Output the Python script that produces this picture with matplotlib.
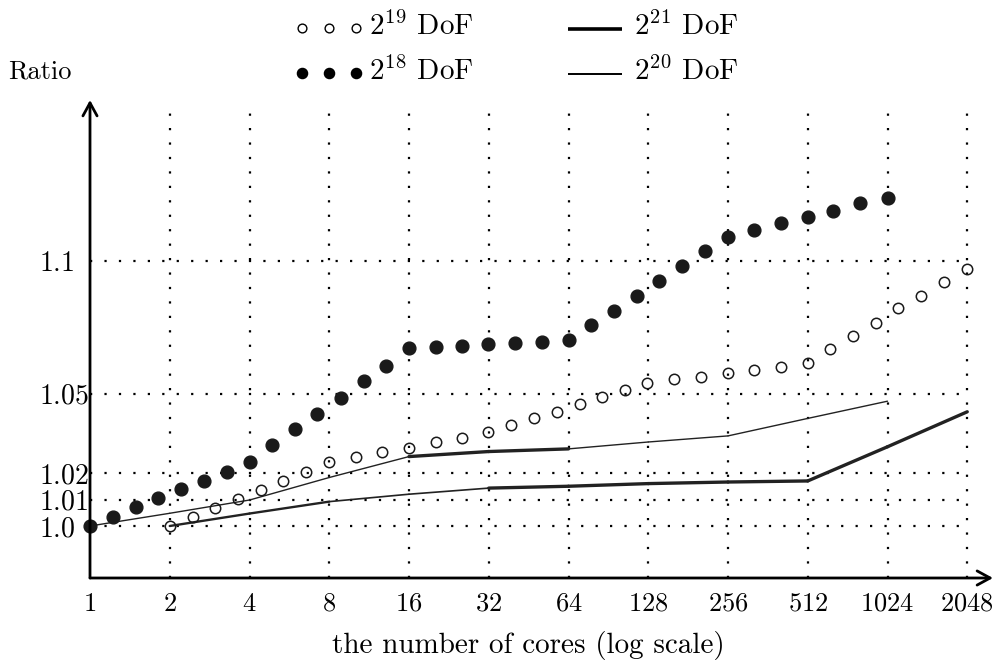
import matplotlib
matplotlib.use("Agg")
import matplotlib.pyplot as plt

plt.rcParams['mathtext.fontset'] = 'cm'
plt.rcParams['font.family'] = ['cmr10', 'DejaVu Serif']
plt.rcParams['axes.formatter.use_mathtext'] = True
plt.rcParams['font.size'] = 17

# ---------------- data ----------------
cores_2p18 = [1, 1.22, 1.49, 1.81, 2.20, 2.69, 3.28, 4.0, 4.85, 5.94, 7.21, 8.84,
              10.8, 13.1, 16, 20.2, 25.4, 31.9, 40.2, 50.7, 64, 77.6, 94.8, 116,
              141, 172, 209, 256, 321, 405, 512, 639, 808, 1024]
ratio_2p18 = [1.0, 1.0035, 1.0071, 1.0105, 1.0138, 1.0171, 1.0205, 1.0243, 1.0305,
              1.0366, 1.0424, 1.0484, 1.0546, 1.0605, 1.0670, 1.0674, 1.0678, 1.0686,
              1.0692, 1.0695, 1.0703, 1.0760, 1.0812, 1.0869, 1.0926, 1.0981, 1.1037,
              1.1092, 1.1118, 1.1142, 1.1167, 1.1190, 1.1218, 1.1239]

cores_2p19 = [2, 2.44, 2.96, 3.62, 4.42, 5.37, 6.55, 8, 10.1, 12.6, 16, 20.2, 25.4,
              31.9, 38.9, 47.3, 57.8, 70.6, 85.9, 104.9, 127, 160, 202, 256, 321,
              405, 512, 621, 757, 924, 1124, 1370, 1674, 2048]
ratio_2p19 = [1.0, 1.0035, 1.0069, 1.0102, 1.0137, 1.0171, 1.0205, 1.0243, 1.0259,
              1.0278, 1.0296, 1.0316, 1.0333, 1.0353, 1.0380, 1.0406, 1.0431, 1.0459,
              1.0488, 1.0514, 1.0540, 1.0553, 1.0563, 1.0576, 1.0590, 1.0601, 1.0614,
              1.0667, 1.0716, 1.0767, 1.0822, 1.0869, 1.0922, 1.0971]

cores_2p20 = [1, 2, 4, 8, 16, 32, 64, 128, 256, 512, 1024]
ratio_2p20 = [1.0, 1.0048, 1.0098, 1.0183, 1.0262, 1.0281, 1.0291, 1.0317, 1.0340,
              1.0406, 1.0471]
width_2p20 = [1.0, 1.0, 1.0, 1.0, 2.4, 2.4, 1.0, 1.0, 1.0, 1.0]   # per segment

cores_2p21 = [2, 4, 8, 16, 32, 64, 128, 256, 512, 1024, 2048]
ratio_2p21 = [1.0, 1.0047, 1.0092, 1.0120, 1.0143, 1.0150, 1.0160, 1.0166, 1.0170,
              1.0299, 1.0431]
width_2p21 = [1.7, 1.7, 1.2, 1.2, 2.4, 2.4, 2.4, 2.4, 2.4, 2.4]   # per segment

xticks = [1, 2, 4, 8, 16, 32, 64, 128, 256, 512, 1024, 2048]
yticks = [1.0, 1.01, 1.02, 1.05, 1.1]
ytick_labels = ['1.0', '1.01', '1.02', '1.05', '1.1']
legend_labels = [r'$2^{19}$ DoF', r'$2^{18}$ DoF', r'$2^{21}$ DoF', r'$2^{20}$ DoF']

# ---------------- figure ----------------
W, H = 1005, 666
fig = plt.figure(figsize=(W / 100, H / 100), dpi=100)
ax = fig.add_axes([90 / W, 1 - 578 / H, 903 / W, 478 / H])
ax.set_xscale('log', base=2)
xmax = 2 ** (903 / 79.75)
ylo, yhi = 1 - 52 / 2650, 1 + 426 / 2650
ax.set_xlim(1, xmax)
ax.set_ylim(ylo, yhi)
for s in ax.spines.values():
    s.set_visible(False)
ax.minorticks_off()

# grid (dotted)
dot = (0, (1, 5.5))
for c in xticks[1:]:
    ax.plot([c, c], [ylo, yhi - 0.001], ls=dot, lw=1.6, color='black', zorder=1)
for v in yticks:
    ax.plot([1, xticks[-1]], [v, v], ls=dot, lw=1.6, color='black', zorder=1)

# axes with arrows
arr = dict(arrowstyle='->,head_length=0.55,head_width=0.3', lw=2.0, color='black',
           shrinkA=0, shrinkB=0)
ax.annotate('', xy=(1.0, 0), xytext=(0, 0), xycoords='axes fraction', arrowprops=arr,
            zorder=5, annotation_clip=False)
ax.annotate('', xy=(0, 1.0), xytext=(0, 0), xycoords='axes fraction', arrowprops=arr,
            zorder=5, annotation_clip=False)

# lines
for i in range(len(cores_2p20) - 1):
    ax.plot(cores_2p20[i:i + 2], ratio_2p20[i:i + 2], color='#222222',
            lw=width_2p20[i], solid_capstyle='round', zorder=3)
for i in range(len(cores_2p21) - 1):
    ax.plot(cores_2p21[i:i + 2], ratio_2p21[i:i + 2], color='#222222',
            lw=width_2p21[i], solid_capstyle='round', zorder=3)

# markers
ax.plot(cores_2p18, ratio_2p18, ls='none', marker='o', ms=9.2, color='#1a1a1a',
        zorder=4, clip_on=False)
ax.plot(cores_2p19, ratio_2p19, ls='none', marker='o', ms=7.5, mfc='none',
        mec='#1a1a1a', mew=1.1, zorder=4, clip_on=False)

# ticks
ax.set_xticks(xticks)
ax.set_xticklabels([r'$%d$' % c for c in xticks])
ax.set_yticks(yticks)
ax.set_yticklabels([r'$\mathrm{%s}$' % t for t in ytick_labels])
ax.tick_params(axis='both', length=0)
ax.tick_params(axis='x', pad=10, labelsize=19)
ax.tick_params(axis='y', pad=37, labelsize=20)
for lab in ax.get_yticklabels():
    lab.set_horizontalalignment('left')

# overlay in pixel coordinates for labels and legend
ov = fig.add_axes([0, 0, 1, 1], zorder=10)
ov.set_xlim(0, W)
ov.set_ylim(H, 0)
ov.axis('off')

ov.text(528, 645, 'the number of cores (log scale)', ha='center', va='center',
        fontsize=21)
ov.text(8, 72, 'Ratio', ha='left', va='center', fontsize=19)

# legend
row1, row2 = 26, 71
ov.plot([301.7, 329, 356], [row1 + 2, row1 + 2, row1 + 2], ls='none', marker='o',
        mfc='none', mec='black', ms=6.3, mew=1.0)
ov.plot([301.7, 329, 356], [row2 + 2, row2 + 2, row2 + 2], ls='none', marker='o',
        color='black', ms=7.3)
ov.plot([568, 622], [row1 + 3, row1 + 3], color='black', lw=2.6, solid_capstyle='butt')
ov.plot([568, 622], [row2 + 3, row2 + 3], color='black', lw=1.4, solid_capstyle='butt')
ov.text(369, row1, legend_labels[0], ha='left', va='center', fontsize=21)
ov.text(369, row2, legend_labels[1], ha='left', va='center', fontsize=21)
ov.text(634, row1, legend_labels[2], ha='left', va='center', fontsize=21)
ov.text(634, row2, legend_labels[3], ha='left', va='center', fontsize=21)

fig.savefig('out.png', dpi=100)
